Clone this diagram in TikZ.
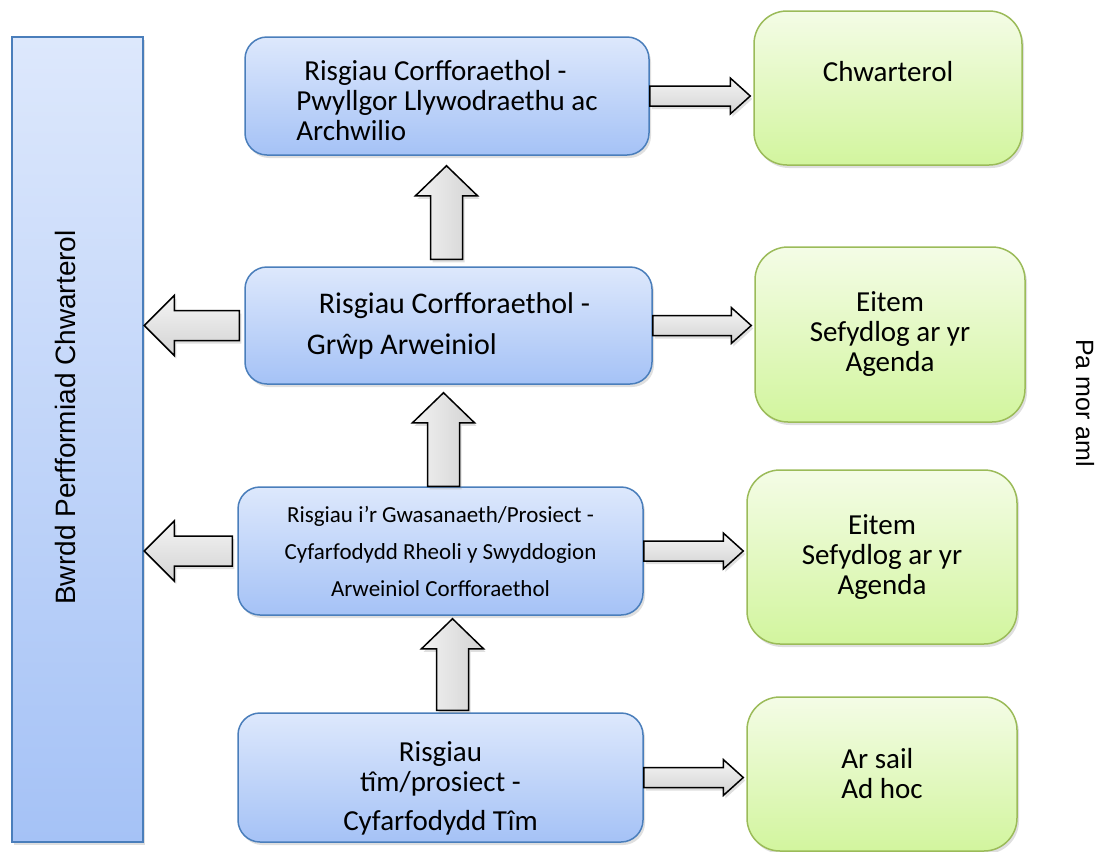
\documentclass[tikz,border=0pt]{standalone}
\usepackage{fontspec}
\setmainfont{Carlito}
\newfontfamily\arialfont{Liberation Sans}
\usetikzlibrary{calc,shadows}
\definecolor{bluetop}{HTML}{DDE8FC}
\definecolor{bluebot}{HTML}{A5C2F6}
\definecolor{blueline}{HTML}{4A7EBB}
\definecolor{greentop}{HTML}{F4FCE6}
\definecolor{greenbot}{HTML}{D2F59E}
\definecolor{greenline}{HTML}{9BBB59}
\begin{document}
\begin{tikzpicture}[x=1pt,y=-1pt,every node/.style={inner sep=0pt},
  softshadow/.style={drop shadow={shadow xshift=2pt,shadow yshift=-3pt,opacity=0.25}},
  riskbox/.style={draw=blueline,line width=1.5pt,rounded corners=22pt,top color=bluetop,bottom color=bluebot,softshadow},
  whenbox/.style={draw=greenline,line width=1.5pt,rounded corners=33pt,top color=greentop,bottom color=greenbot,softshadow,align=center},
  hblock/.style={draw=black,line width=1.5pt,top color=gray!8,bottom color=gray!35,softshadow},
  vblock/.style={draw=black,line width=1.5pt,left color=gray!10,right color=gray!35,softshadow},
  big/.style={font=\fontsize{29}{30}\selectfont}]
\useasboundingbox (0,0) rectangle (1120,852);
\node[draw=blueline,line width=2.5pt,top color=bluetop,bottom color=bluebot,softshadow,
  minimum width=131pt,minimum height=805pt] (bw) at (77.5,439.5) {};
\node[rotate=90,font=\arialfont\fontsize{28}{30}\selectfont] (bwtext) at ($(bw.center)+(-12,-22)$) {Bwrdd Perfformiad Chwarterol};
\node[riskbox,big,align=left,minimum width=404pt,minimum height=118pt] (b1) at (447,96)
  {\rule{0pt}{30pt}\hspace*{8pt}Risgiau Corfforaethol -\\Pwyllgor Llywodraethu ac\\Archwilio};
\node[riskbox,align=left,font=\fontsize{30}{31}\selectfont,minimum width=407pt,minimum height=117pt] (b2) at (448.5,325.5)
  {\hspace*{12pt}Risgiau Corfforaethol -\\[10pt]Grŵp Arweiniol};
\node[riskbox,align=center,font=\fontsize{23}{37}\selectfont,minimum width=405pt,minimum height=128pt] (b3) at (440.5,551)
  {Risgiau i’r Gwasanaeth/Prosiect -\\Cyfarfodydd Rheoli y Swyddogion\\Arweiniol Corfforaethol};
\node[riskbox,big,align=center,minimum width=405pt,minimum height=129pt] (b4) at (440.5,777.5)
  {\rule{0pt}{42pt}Risgiau\\tîm/prosiect -\\[9pt]Cyfarfodydd Tîm};
\node[whenbox,big,minimum width=268pt,minimum height=154pt] (g1) at (888,88) {Chwarterol\\[-6pt]\strut};
\node[whenbox,big,minimum width=270pt,minimum height=175pt] (g2) at (890,334.5) {Eitem\\Sefydlog ar yr\\Agenda};
\node[whenbox,big,minimum width=270pt,minimum height=174pt] (g3) at (882,557) {Eitem\\Sefydlog ar yr\\Agenda};
\node[whenbox,big,align=left,minimum width=270pt,minimum height=154pt] (g4) at (882,774) {Ar sail\\Ad hoc};
\node[rotate=-90,font=\arialfont\fontsize{25}{27}\selectfont] (freq) at (1085,403) {Pa mor aml};
\foreach \a/\b in {b1/g1,b2/g2,b3/g3,b4/g4}{
  \coordinate (s) at (\a.east);
  \coordinate (t) at ($(\b.west |- s)+(-3,0)$);
  \draw[hblock] ($(s)+(0,-10)$) -- ($(t)+(-20,-10)$) -- ($(t)+(-20,-18)$) -- (t)
    -- ($(t)+(-20,18)$) -- ($(t)+(-20,10)$) -- ($(s)+(0,10)$) -- cycle;
}
\foreach \a/\b/\dx/\gb/\gt in {b2/b1/-2/7/10,b3/b2/3/0/8,b4/b3/12/2/3}{
  \coordinate (s) at ($(\a.north)+(\dx,-\gb)$);
  \coordinate (t) at ($(s |- \b.south)+(0,\gt)$);
  \draw[vblock] ($(s)+(-16,0)$) -- ($(t)+(-16,30)$) -- ($(t)+(-31,30)$) -- (t)
    -- ($(t)+(31,30)$) -- ($(t)+(16,30)$) -- ($(s)+(16,0)$) -- cycle;
}
\foreach \a in {b2,b3}{
  \coordinate (s) at ($(\a.west)+(-5,0)$);
  \coordinate (t) at (bw.east |- s);
  \draw[hblock] ($(s)+(0,-15)$) -- ($(t)+(30,-15)$) -- ($(t)+(30,-30)$) -- (t)
    -- ($(t)+(30,30)$) -- ($(t)+(30,15)$) -- ($(s)+(0,15)$) -- cycle;
}
\end{tikzpicture}
\end{document}
